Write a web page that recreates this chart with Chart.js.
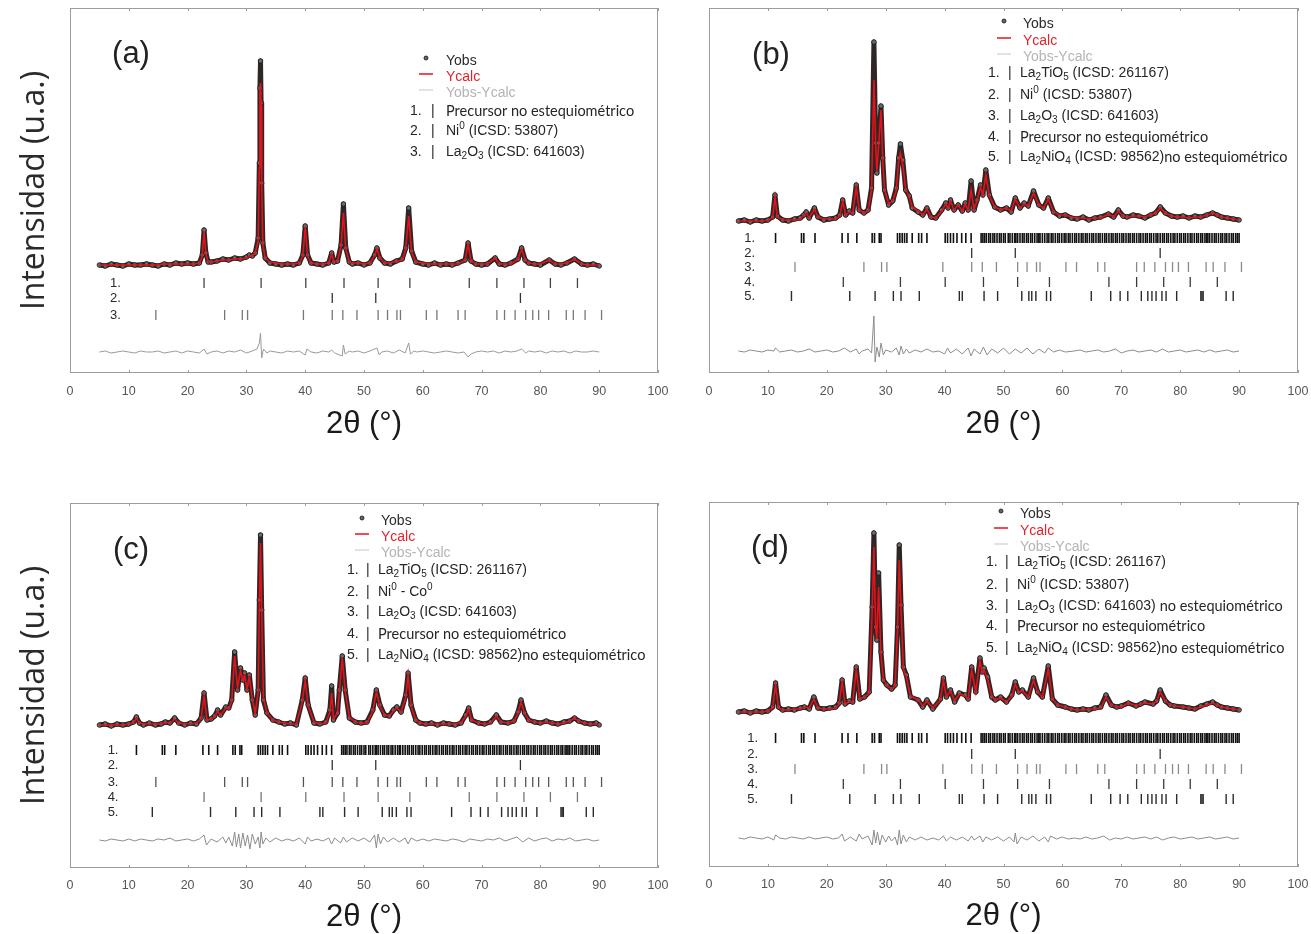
<!DOCTYPE html>
<html>
<head>
<meta charset="utf-8">
<script src="https://cdn.jsdelivr.net/npm/chart.js@4.4.1/dist/chart.umd.min.js"></script>
<style>
  body { margin: 0; background: #fff; }
  #fig { position: relative; width: 1311px; height: 934px; overflow: hidden; background: #fff; }
  #fig canvas { position: absolute; }
</style>
</head>
<body>
<div id="fig">
  <canvas id="panelA" width="690" height="445" style="left:0px;top:0px"></canvas>
  <canvas id="panelB" width="621" height="445" style="left:690px;top:0px"></canvas>
  <canvas id="panelC" width="690" height="474" style="left:0px;top:460px"></canvas>
  <canvas id="panelD" width="621" height="474" style="left:690px;top:460px"></canvas>
</div>
<script>
// ---- axis / legend text ----
const xTickValues = [0, 10, 20, 30, 40, 50, 60, 70, 80, 90, 100];
const legendSeries = ['Yobs', 'Ycalc', 'Yobs-Ycalc'];

// ---- reflection positions (2θ) for each phase ----
const precursor = [22.8, 32.5, 40.1, 46.6, 52.4, 57.8, 67.9, 72.6, 77.2, 81.7, 86.3];
const ni0 = [44.6, 52.0, 76.6];
const la2o3 = [14.6, 26.3, 29.3, 30.2, 39.7, 44.6, 46.4, 48.8, 52.4, 54.0, 55.6, 56.2, 60.6, 62.4,
  66.0, 67.2, 72.6, 73.9, 75.7, 77.5, 78.7, 79.7, 81.4, 84.4, 85.6, 87.6, 90.4];
const la2nio4 = [14.0, 23.9, 28.2, 31.3, 32.6, 35.7, 42.5, 43.0, 46.7, 49.0, 53.1, 54.3, 54.8, 55.5,
  57.3, 58.0, 64.9, 68.2, 69.8, 71.1, 73.4, 74.5, 75.2, 75.9, 76.9, 77.6, 79.4, 83.5, 83.7, 83.9, 87.8, 89.0];
const la2tio5 = [11.3, 15.7, 16.1, 18.0, 22.6, 23.6, 25.1, 27.7, 28.1, 28.9, 29.2, 32.0, 32.4, 32.8, 33.2,
  33.6, 34.5, 35.6, 36.1, 37.0, 40.1, 40.5, 41.0, 41.5, 42.1, 42.9, 43.6, 44.5, 46.2, 46.5, 46.8, 47.1,
  47.5, 47.8, 48.2, 48.5, 48.9, 49.3, 49.6, 50.0, 50.3, 50.8, 51.1, 51.5, 51.9, 52.1, 52.4, 52.8, 53.2,
  53.5, 53.9, 54.2, 54.6, 54.9, 55.3, 55.7, 56.0, 56.2, 56.6, 57.0, 57.4, 57.7, 58.1, 58.4, 58.8, 59.2,
  59.5, 59.9, 60.3, 60.6, 61.0, 61.3, 61.7, 62.1, 62.4, 62.8, 63.2, 63.5, 63.9, 64.2, 64.6, 65.0, 65.3,
  65.7, 66.1, 66.4, 66.8, 67.2, 67.5, 67.9, 68.3, 68.6, 69.0, 69.3, 69.7, 70.1, 70.4, 70.8, 71.2, 71.5,
  71.9, 72.2, 72.6, 73.0, 73.3, 73.7, 74.1, 74.4, 74.8, 75.1, 75.5, 75.9, 76.2, 76.6, 77.0, 77.3, 77.7,
  78.0, 78.4, 78.8, 79.1, 79.5, 79.9, 80.2, 80.6, 80.9, 81.3, 81.7, 82.0, 82.4, 82.8, 83.1, 83.5, 83.8,
  84.2, 84.5, 84.7, 85.0, 85.4, 85.8, 86.1, 86.5, 86.9, 87.2, 87.6, 87.9, 88.3, 88.7, 89.0, 89.4, 89.7, 90.0];

// ---- panel (a) ----
const a2theta = [
  5, 6, 7, 8, 9, 10, 11, 12, 13, 14,
  15, 16, 17, 18, 19, 20, 21, 22, 22.5, 22.8,
  23.1, 23.5, 24, 25, 26, 27, 28, 29, 30, 30.5,
  31, 31.5, 32, 32.2, 32.3, 32.4, 32.5, 32.6, 32.8, 33.2,
  34, 35, 36, 37, 38, 39, 39.6, 40, 40.4, 41,
  42, 43, 44, 44.5, 44.9, 45.5, 46.1, 46.5, 46.9, 47.5,
  48, 49, 50, 51, 51.8, 52.2, 52.7, 53.5, 54.5, 55.5,
  56.5, 57.1, 57.6, 58.1, 58.8, 60, 61, 62, 63, 64,
  65, 66, 67.2, 67.7, 68.2, 69, 70, 71, 72.3, 73,
  74, 75, 76.2, 76.8, 77.4, 78, 79, 80, 81.5, 82.5,
  83.5, 84.5, 85.8, 87, 88, 89, 90];
const aObs = [
  108, 107, 109, 108, 107, 109, 108, 108, 109, 108,
  107, 109, 108, 110, 109, 110, 109, 110, 118, 143,
  120, 111, 111, 112, 114, 113, 115, 114, 116, 118,
  117, 120, 135, 210, 285, 312, 270, 190, 130, 115,
  110, 109, 108, 109, 108, 110, 118, 147, 118, 110,
  109, 108, 110, 120, 111, 112, 128, 169, 125, 111,
  109, 110, 108, 110, 118, 125, 115, 110, 109, 112,
  114, 125, 165, 122, 111, 109, 108, 110, 108, 109,
  108, 110, 113, 130, 112, 109, 108, 109, 115, 109,
  108, 110, 114, 125, 113, 110, 109, 108, 113, 109,
  108, 110, 114, 109, 108, 109, 107];
const aCalc = [
  108, 108, 108, 108, 108, 108, 108, 108, 108, 108,
  108, 109, 109, 109, 109, 109, 109, 110, 117, 142,
  119, 111, 111, 112, 113, 113, 114, 114, 115, 117,
  117, 120, 132, 205, 282, 290, 268, 185, 128, 115,
  111, 110, 109, 109, 109, 110, 117, 146, 117, 110,
  109, 109, 110, 119, 111, 112, 127, 160, 124, 111,
  110, 110, 109, 110, 117, 124, 115, 110, 110, 112,
  113, 124, 157, 121, 111, 110, 109, 109, 109, 109,
  109, 109, 113, 129, 112, 109, 109, 109, 115, 109,
  109, 109, 114, 124, 113, 110, 109, 109, 113, 109,
  109, 110, 114, 109, 108, 108, 108];
const aDiff = [[5,21],[6,22],[7,20],[8,21],[9,22],[10,21],[11,20],[12,22],[13,21],[14,21],[15,22],[16,20],
  [17,21],[18,22],[19,20],[20,22],[21,21],[22,20],[22.8,24],[23.3,19],[24,21],[25,22],[26,20],[27,22],
  [28,21],[29,23],[30,20],[31,22],[31.8,24],[32.2,30],[32.4,40],[32.6,15],[32.9,24],[33.5,20],[34,22],
  [35,21],[36,20],[37,22],[38,21],[39,22],[40,18],[40.3,24],[41,21],[42,20],[43,22],[44,21],[44.5,23],
  [45,20],[46.3,17],[46.5,28],[46.8,19],[47.5,22],[48,21],[49,22],[50,20],[51,22],[52.2,25],[52.6,18],
  [53,21],[54,22],[55,20],[56,23],[57,20],[57.6,30],[57.9,19],[58.5,22],[59,21],[60,22],[61,21],[62,20],
  [63,21],[64,22],[65,21],[66,20],[67,21],[67.7,16],[68.2,19],[69,21],[70,22],[71,21],[72,22],[73,20],
  [74,22],[75,21],[76,22],[76.8,24],[77.5,20],[78,22],[79,21],[80,22],[81,20],[82,22],[83,21],[84,22],
  [85,20],[86,22],[87,21],[88,21],[89,22],[90,21]];

// ---- panel (b) ----
const b2theta = [
  5, 6, 7, 8, 9, 10, 10.8, 11.2, 11.6, 12.5,
  13.5, 14.5, 15.5, 16.1, 16.5, 17.0, 17.9, 18.5, 19.5, 20.5,
  21.5, 22.2, 22.7, 23.2, 23.8, 24.4, 25.0, 25.5, 26.3, 27.0,
  27.6, 28.0, 28.3, 28.5, 28.8, 29.2, 29.5, 29.8, 30.5, 31.2,
  31.8, 32.2, 32.5, 32.9, 33.4, 34.0, 34.5, 35.5, 36.3, 37.0,
  37.7, 38.5, 39.5, 40.2, 40.6, 41.0, 41.6, 42.3, 43.0, 43.5,
  44.0, 44.5, 45.0, 45.5, 46.1, 46.5, 47.0, 47.6, 48.5, 49.5,
  50.5, 51.3, 52.0, 52.8, 53.5, 54.2, 55.1, 56.0, 56.8, 57.6,
  58.5, 59.5, 60.5, 61.5, 62.5, 63.5, 64.5, 65.5, 66.5, 67.8,
  68.7, 69.5, 70.3, 71.0, 72.0, 73.0, 74.0, 75.0, 75.8, 76.6,
  77.5, 78.5, 79.5, 80.5, 81.5, 82.5, 83.5, 84.5, 85.5, 86.3,
  87.0, 88.0, 89.0, 90.0];
const bObs = [
  152, 153, 151, 153, 152, 153, 156, 178, 157, 153,
  152, 154, 155, 158, 161, 155, 165, 156, 153, 154,
  155, 158, 173, 158, 162, 160, 188, 163, 160, 163,
  185, 331, 230, 200, 230, 267, 215, 183, 168, 172,
  185, 215, 229, 213, 183, 177, 165, 161, 158, 165,
  156, 155, 163, 170, 165, 173, 163, 168, 162, 170,
  163, 192, 163, 173, 188, 178, 203, 178, 166, 163,
  165, 161, 175, 165, 170, 167, 182, 168, 165, 175,
  161, 157, 158, 155, 154, 156, 153, 155, 156, 159,
  156, 163, 157, 156, 158, 157, 155, 158, 160, 166,
  160, 157, 156, 157, 155, 157, 156, 158, 160, 158,
  156, 155, 154, 153];
const bCalc = [
  152, 152, 152, 152, 152, 153, 155, 176, 156, 153,
  153, 153, 154, 158, 160, 155, 164, 156, 154, 154,
  154, 157, 172, 158, 161, 160, 186, 163, 160, 162,
  183, 293, 228, 202, 228, 263, 212, 184, 169, 172,
  183, 212, 220, 208, 184, 176, 166, 162, 158, 164,
  156, 155, 162, 169, 165, 172, 163, 168, 162, 169,
  163, 183, 164, 172, 186, 178, 198, 177, 166, 163,
  165, 162, 174, 165, 169, 167, 180, 168, 165, 174,
  161, 158, 158, 156, 155, 155, 154, 155, 155, 159,
  156, 162, 157, 156, 157, 157, 156, 158, 160, 165,
  160, 157, 156, 156, 155, 156, 156, 158, 160, 158,
  156, 155, 154, 153];
const bDiff = [[5,22],[6,21],[7,23],[8,22],[9,21],[10,23],[11,22],[11.3,25],[12,21],[13,22],[14,23],[15,21],
  [16,22],[17,24],[18,21],[19,22],[20,23],[21,21],[22,22],[23,25],[24,21],[25,24],[25.5,19],[26,22],[27,24],
  [27.6,20],[28.0,57],[28.2,11],[28.5,26],[28.9,16],[29.2,30],[29.6,18],[30,23],[31,21],[31.8,25],[32.3,18],
  [32.6,27],[33,19],[33.5,24],[34,20],[35,23],[36,21],[37,24],[38,21],[39,22],[40,19],[40.5,25],[41,20],
  [42,24],[43,19],[44,25],[44.5,17],[45,24],[46,19],[46.6,26],[47.2,18],[48,24],[49,20],[50,25],[51,19],
  [52,24],[53,20],[54,25],[55,19],[56,24],[57,20],[57.6,25],[58.5,21],[59.5,23],[60.5,21],[62,22],[63,23],
  [64,21],[65,22],[66,23],[67,21],[68,22],[69,24],[70,20],[71,22],[72,23],[73,21],[74,22],[75,23],[76,21],
  [77,24],[78,21],[79,22],[80,23],[81,21],[82,22],[83,23],[84,21],[85,23],[86,21],[87,22],[88,23],[89,21],[90,22]];

// ---- panel (c) ----
const c2theta = [
  5, 6, 7, 8, 9, 10, 10.8, 11.3, 11.8, 12.5,
  13.5, 14.5, 15.5, 16.2, 17.0, 17.8, 18.5, 19.5, 20.5, 21.5,
  22.3, 22.8, 23.3, 24.0, 24.6, 25.1, 25.6, 26.5, 27.0, 27.5,
  28.0, 28.5, 29.0, 29.4, 29.7, 30.1, 30.5, 31.0, 31.5, 32.0,
  32.2, 32.4, 32.6, 32.9, 33.5, 34.5, 35.5, 36.5, 37.5, 38.5,
  39.5, 40.0, 40.5, 41.5, 42.5, 43.5, 44.2, 44.5, 44.8, 45.5,
  45.8, 46.3, 46.8, 47.5, 48.5, 49.5, 50.5, 51.5, 52.1, 52.7,
  53.5, 54.3, 55.0, 55.6, 56.3, 57.1, 57.5, 58.0, 58.8, 59.5,
  60.5, 61.5, 62.5, 63.5, 64.5, 65.5, 66.5, 67.3, 67.8, 68.3,
  69.5, 70.5, 71.5, 72.5, 73.3, 74.5, 75.5, 76.2, 76.7, 77.3,
  78.0, 79.0, 80.0, 81.0, 82.0, 83.0, 84.0, 85.0, 85.8, 86.5,
  87.5, 88.5, 89.5, 90.0];
const cObs = [
  143, 144, 142, 144, 143, 144, 146, 151, 145, 143,
  145, 143, 144, 146, 145, 150, 145, 143, 145, 144,
  150, 175, 148, 149, 152, 158, 153, 161, 160, 168,
  216, 178, 200, 188, 195, 178, 193, 168, 153, 178,
  268, 333, 258, 168, 155, 148, 146, 144, 145, 143,
  168, 190, 163, 145, 144, 146, 158, 182, 148, 155,
  178, 212, 178, 150, 146, 145, 146, 158, 178, 163,
  153, 152, 158, 161, 156, 173, 195, 163, 148, 145,
  144, 145, 143, 145, 144, 143, 145, 153, 160, 148,
  145, 144, 146, 153, 146, 145, 147, 156, 168, 155,
  148, 146, 145, 147, 145, 144, 146, 147, 150, 147,
  145, 144, 145, 143];
const cCalc = [
  143, 143, 143, 143, 143, 144, 145, 150, 145, 144,
  144, 144, 144, 146, 145, 149, 145, 144, 144, 145,
  149, 172, 148, 149, 151, 157, 153, 160, 159, 167,
  212, 180, 197, 188, 193, 179, 191, 169, 155, 176,
  262, 325, 255, 170, 155, 148, 146, 145, 144, 144,
  166, 188, 162, 146, 144, 145, 156, 175, 149, 155,
  176, 210, 177, 151, 146, 145, 145, 157, 176, 162,
  153, 152, 157, 160, 156, 171, 193, 162, 148, 145,
  144, 144, 144, 144, 144, 144, 145, 152, 159, 148,
  145, 144, 145, 152, 146, 145, 147, 155, 166, 155,
  148, 146, 145, 146, 145, 144, 145, 147, 150, 147,
  145, 144, 144, 143];
const cDiff = [[5,28],[6,27],[7,29],[8,28],[9,27],[10,29],[11,27],[12,29],[13,28],[14,27],[15,29],[16,28],
  [17,30],[18,27],[19,28],[20,29],[21,27],[22,29],[22.8,33],[23.2,23],[24,29],[25,26],[26,31],[26.5,25],
  [27,31],[27.6,22],[28,36],[28.3,21],[28.7,34],[29,20],[29.4,35],[29.8,22],[30.2,33],[30.6,19],[31,34],
  [31.5,24],[32,31],[32.3,20],[32.5,36],[32.8,24],[33.3,30],[34,26],[35,30],[36,27],[37,29],[38,27],[39,30],
  [40,24],[40.4,31],[41,27],[42,29],[43,27],[44,30],[44.5,24],[45,30],[46,25],[46.5,31],[47,26],[48,30],
  [49,27],[50,30],[51,26],[51.8,33],[52.1,20],[52.4,34],[52.8,24],[53.3,31],[54,26],[55,30],[56,26],[57,30],
  [57.5,24],[58,30],[59,27],[60,29],[61,27],[62,29],[63,28],[64,27],[65,29],[66,28],[67,26],[68,29],[69,28],
  [70,27],[71,29],[72,28],[73,30],[74,27],[75,29],[76,31],[77,26],[78,30],[79,27],[80,29],[81,30],[82,27],
  [83,29],[84,28],[85,30],[86,27],[87,28],[88,29],[89,27],[90,28]];

// ---- panel (d) ----
const d2theta = [
  5, 6, 7, 8, 9, 10, 10.8, 11.3, 11.8, 12.5,
  13.5, 14.5, 15.5, 16.2, 17.0, 17.8, 18.5, 19.5, 20.5, 21.5,
  22.1, 22.6, 23.1, 23.8, 24.4, 25.0, 25.6, 26.4, 27.2, 27.7,
  28.0, 28.3, 28.5, 28.8, 29.2, 29.6, 30.2, 31.0, 31.6, 32.0,
  32.3, 32.6, 33.0, 33.5, 34.2, 35.5, 36.3, 37.0, 38.0, 39.3,
  39.8, 40.3, 41.0, 41.7, 42.5, 43.5, 44.0, 44.6, 45.3, 46.0,
  46.4, 46.7, 47.3, 48.0, 48.6, 49.5, 50.5, 51.4, 52.0, 52.6,
  53.2, 54.2, 55.1, 55.8, 56.6, 57.6, 58.3, 59.2, 60.5, 61.5,
  62.5, 63.5, 64.5, 65.5, 66.5, 67.4, 68.3, 69.2, 70.0, 71.2,
  72.5, 73.3, 74.0, 75.4, 76.0, 76.6, 77.5, 78.3, 79.0, 80.5,
  81.5, 82.5, 83.5, 84.5, 85.5, 86.3, 87.0, 88.0, 89.0, 90.0];
const dObs = [
  155, 156, 154, 156, 155, 156, 160, 184, 160, 157,
  158, 157, 159, 160, 158, 170, 159, 158, 159, 160,
  164, 187, 163, 166, 165, 200, 168, 170, 175, 260,
  334, 240, 227, 294, 215, 187, 182, 178, 182, 240,
  322, 262, 200, 192, 170, 167, 160, 167, 158, 168,
  189, 170, 177, 165, 174, 172, 168, 200, 175, 209,
  195, 199, 190, 170, 167, 170, 165, 172, 185, 175,
  177, 170, 189, 175, 170, 201, 168, 162, 160, 158,
  157, 158, 157, 159, 160, 172, 162, 160, 161, 164,
  161, 163, 165, 163, 166, 177, 166, 162, 161, 160,
  159, 158, 161, 163, 165, 162, 160, 159, 158, 157];
const dCalc = [
  155, 155, 155, 155, 155, 156, 159, 182, 159, 157,
  157, 158, 158, 160, 159, 168, 159, 158, 158, 159,
  163, 185, 163, 165, 165, 197, 168, 170, 174, 255,
  320, 238, 228, 280, 212, 188, 181, 178, 181, 236,
  307, 258, 198, 190, 171, 167, 161, 166, 159, 167,
  187, 170, 176, 166, 173, 171, 168, 197, 175, 206,
  194, 197, 188, 171, 167, 169, 165, 171, 183, 175,
  176, 170, 187, 175, 170, 198, 168, 162, 160, 158,
  157, 157, 158, 158, 159, 170, 162, 160, 160, 164,
  161, 163, 164, 163, 166, 175, 166, 162, 161, 160,
  159, 158, 160, 162, 164, 162, 160, 159, 158, 157];
const dDiff = [[5,29],[6,28],[7,30],[8,29],[9,28],[10,30],[11,27],[11.3,32],[12,29],[13,28],[14,30],[15,29],
  [16,28],[17,30],[18,28],[19,29],[20,30],[21,28],[22,29],[22.6,33],[23,26],[24,30],[25,26],[25.5,33],[26,28],
  [27,31],[27.7,22],[28,37],[28.3,24],[28.6,35],[29,22],[29.4,32],[30,25],[30.5,31],[31,26],[31.6,30],[32,22],
  [32.3,37],[32.6,23],[33,32],[33.5,25],[34,30],[35,27],[36,30],[37,27],[38,29],[39,27],[39.8,31],[40.3,26],
  [41,30],[42,27],[43,30],[44,26],[44.6,31],[45,27],[46,31],[46.5,25],[47,30],[48,27],[49,30],[50,26],[51,30],
  [51.8,25],[52,34],[52.3,23],[53,30],[54,27],[55,31],[56,26],[57,30],[57.6,25],[58,31],[59,28],[60,30],[61,28],
  [62,29],[63,28],[64,30],[65,28],[66,29],[67,31],[68,27],[69,29],[70,28],[71,30],[72,28],[73,29],[74,30],
  [75,28],[76,30],[77,27],[78,29],[79,30],[80,28],[81,29],[82,30],[83,28],[84,29],[85,30],[86,28],[87,29],
  [88,30],[89,28],[90,29]];

// ---- phase names shown in each legend ----
const namesA = ['Precursor no estequiométrico', 'Ni^0 (ICSD: 53807)', 'La_2O_3 (ICSD: 641603)'];
const namesB = ['La_2TiO_5 (ICSD: 261167)', 'Ni^0 (ICSD: 53807)', 'La_2O_3 (ICSD: 641603)',
  'Precursor no estequiométrico', 'La_2NiO_4 (ICSD: 98562)no estequiométrico'];
const namesC = ['La_2TiO_5 (ICSD: 261167)', 'Ni^0 - Co^0', 'La_2O_3 (ICSD: 641603)',
  'Precursor no estequiométrico', 'La_2NiO_4 (ICSD: 98562)no estequiométrico'];
const namesD = ['La_2TiO_5 (ICSD: 261167)', 'Ni^0 (ICSD: 53807)', 'La_2O_3 (ICSD: 641603) no estequiométrico',
  'Precursor no estequiométrico', 'La_2NiO_4 (ICSD: 98562)no estequiométrico'];

const ARIAL = '"Liberation Sans", Arial, sans-serif';
const LATO = 'Lato, "Open Sans", sans-serif';
const FRAME_H = 365;

// text with _x subscripts and ^x superscripts; the "no estequiométrico" part is in a Calibri-like face
function drawRich(ctx, text, x, y, size) {
  const cut = text.search(/Precursor|no estequiom/);
  let cx = x;
  let i = 0;
  while (i < text.length) {
    const family = (cut >= 0 && i >= cut) ? LATO : ARIAL;
    const fsize = family === LATO ? size + 0.5 : size;
    const ch = text[i];
    if ((ch === '_' || ch === '^') && i + 1 < text.length) {
      ctx.font = Math.round(fsize * 0.68) + 'px ' + family;
      ctx.fillText(text[i + 1], cx, y + (ch === '_' ? fsize * 0.32 : -fsize * 0.36));
      cx += ctx.measureText(text[i + 1]).width;
      i += 2;
    } else {
      let j = i + 1;
      while (j < text.length && text[j] !== '_' && text[j] !== '^' && j !== cut) j++;
      const run = text.slice(i, j);
      ctx.font = fsize + 'px ' + family;
      ctx.fillText(run, cx, y);
      cx += ctx.measureText(run).width;
      i = j;
    }
  }
}

const deco = {
  id: 'deco',
  afterDatasetsDraw(chart, args, o) {
    const { ctx, chartArea: ca, scales: { x, y } } = chart;
    ctx.save();

    // frame + small inward ticks
    ctx.strokeStyle = '#9c9c9c';
    ctx.lineWidth = 1;
    ctx.strokeRect(Math.round(ca.left) + 0.5, Math.round(ca.top) + 0.5,
      Math.round(ca.width) - 1, Math.round(ca.height) - 1);
    ctx.beginPath();
    xTickValues.forEach(v => {
      const px = Math.round(x.getPixelForValue(v)) + 0.5;
      ctx.moveTo(px, ca.top); ctx.lineTo(px, ca.top + 3);
      ctx.moveTo(px, ca.bottom); ctx.lineTo(px, ca.bottom - 3);
    });
    ctx.stroke();

    ctx.textBaseline = 'middle';
    ctx.textAlign = 'left';

    // row numbers for the reflection markers
    ctx.fillStyle = '#2a2a2a';
    ctx.font = '13px ' + ARIAL;
    o.rowLevels.forEach((lv, i) => {
      ctx.fillText((i + 1) + '.', x.getPixelForValue(o.rowLabelX), y.getPixelForValue(lv));
    });

    // panel letter
    ctx.fillStyle = '#222';
    ctx.font = '31px ' + ARIAL;
    ctx.textAlign = 'center';
    ctx.fillText(o.label, o.labelPos[0] - o.ox, o.labelPos[1] - o.oy);
    ctx.textAlign = 'left';

    // legend
    const L = o.legend;
    const lx = v => v - o.ox, ly = v => v - o.oy;
    ctx.font = '14px ' + ARIAL;
    ctx.fillStyle = '#666'; ctx.strokeStyle = '#111'; ctx.lineWidth = 0.8;
    ctx.beginPath(); ctx.arc(lx(L.markX), ly(L.yObs - 3), 2, 0, Math.PI * 2); ctx.fill(); ctx.stroke();
    ctx.fillStyle = '#2a2a2a';
    ctx.fillText(legendSeries[0], lx(L.textX), ly(L.yObs));

    ctx.strokeStyle = '#e5222b'; ctx.lineWidth = 1.6;
    ctx.beginPath(); ctx.moveTo(lx(L.markX - 7), ly(L.yCalc - 3)); ctx.lineTo(lx(L.markX + 7), ly(L.yCalc - 3)); ctx.stroke();
    ctx.fillStyle = '#e5222b';
    ctx.fillText(legendSeries[1], lx(L.textX), ly(L.yCalc));

    ctx.strokeStyle = '#cfcfcf'; ctx.lineWidth = 1.2;
    ctx.beginPath(); ctx.moveTo(lx(L.markX - 7), ly(L.yDiff - 3)); ctx.lineTo(lx(L.markX + 7), ly(L.yDiff - 3)); ctx.stroke();
    ctx.fillStyle = '#b4b4b4';
    ctx.fillText(legendSeries[2], lx(L.textX), ly(L.yDiff));

    ctx.fillStyle = '#262626';
    o.names.forEach((name, i) => {
      const yy = ly(L.itemY[i]);
      ctx.font = '14px ' + ARIAL;
      ctx.fillText((i + 1) + '.', lx(L.numX), yy);
      ctx.fillText('|', lx(L.barX), yy);
      drawRich(ctx, name, lx(L.nameX), yy, 14);
    });

    ctx.restore();
  }
};

function pts(xs, ys) {
  if (xs.length !== ys.length) console.warn('length mismatch', xs.length, ys.length);
  return xs.map((v, i) => ({ x: v, y: ys[i] }));
}

function makePanel(p) {
  const datasets = [
    { label: 'Ycalc', data: pts(p.x, p.calc), showLine: true, borderColor: '#e3121b', borderWidth: 1.6,
      pointRadius: 0, order: 0 },
    { label: 'Yobs', data: pts(p.x, p.obs), showLine: true, borderColor: 'rgba(25,14,14,0.9)', borderWidth: 5,
      borderJoinStyle: 'round', pointRadius: 2.3, pointBackgroundColor: '#6a6a6a', pointBorderColor: '#151515',
      pointBorderWidth: 0.8, order: 1 },
    { label: 'Yobs-Ycalc', data: p.diff.map(([x, y]) => ({ x, y })), showLine: true, borderColor: p.diffColor,
      borderWidth: 1, pointRadius: 0, order: 2 }
  ];
  p.phases.forEach((list, i) => {
    datasets.push({
      label: 'fase ' + (i + 1),
      data: list.map(v => ({ x: v, y: p.rowLevels[i] })),
      showLine: false, pointStyle: 'line', pointRadius: 5, pointRotation: 90,
      pointBorderColor: p.rowColors[i], pointBorderWidth: p.rowWidths[i], order: 3
    });
  });

  const el = document.getElementById(p.canvas);
  return new Chart(el, {
    type: 'scatter',
    data: { datasets },
    options: {
      responsive: false,
      animation: false,
      devicePixelRatio: 1,
      events: [],
      layout: { padding: { left: 0, top: p.padTop, right: p.padRight, bottom: 0 } },
      scales: {
        x: {
          type: 'linear', min: 0, max: 100,
          afterBuildTicks: s => { s.ticks = xTickValues.map(v => ({ value: v })); },
          ticks: { color: '#555', font: { family: ARIAL, size: 12.5 }, padding: p.tickPad, maxRotation: 0, autoSkip: false },
          grid: { display: false, drawTicks: false },
          border: { display: false },
          title: { display: true, text: '2θ (°)', color: '#1a1a1a',
            font: { family: ARIAL, size: 31, lineHeight: 1 }, padding: { top: 0, bottom: p.titlePad } },
          afterFit: s => { s.height = p.height - p.padTop - FRAME_H; s.paddingLeft = 0; s.paddingRight = 0; }
        },
        y: {
          min: 0, max: FRAME_H,
          ticks: { display: false },
          grid: { display: false, drawTicks: false },
          border: { display: false },
          title: { display: p.yTitle, text: 'Intensidad (u.a.)', color: '#2a2a2a',
            font: { family: '"Open Sans", sans-serif', size: 32, lineHeight: 1 }, padding: { top: 19, bottom: 0 } },
          afterFit: s => { s.width = p.axisLeft; s.paddingTop = 0; s.paddingBottom = 0; }
        }
      },
      plugins: {
        legend: { display: false },
        tooltip: { enabled: false },
        deco: {
          ox: p.left, oy: p.top, label: p.label, labelPos: p.labelPos,
          rowLevels: p.rowLevels, rowLabelX: p.rowLabelX, names: p.names, legend: p.legend
        }
      }
    },
    plugins: [deco]
  });
}

makePanel({
  canvas: 'panelA', left: 0, top: 0, height: 445, padTop: 8, padRight: 32, axisLeft: 70,
  tickPad: 11.5, titlePad: 5.5, yTitle: true, label: '(a)', labelPos: [131, 54],
  x: a2theta, obs: aObs, calc: aCalc, diff: aDiff, diffColor: '#9a9a9a',
  phases: [precursor, ni0, la2o3], rowLevels: [90, 75, 58], rowColors: ['#444', '#333', '#777'],
  rowWidths: [1.3, 1.3, 1.3], rowLabelX: 6.8,
  names: namesA,
  legend: { markX: 426, textX: 446, yObs: 61, yCalc: 77, yDiff: 93, numX: 410, barX: 431, nameX: 446,
    itemY: [111, 131, 152] }
});

makePanel({
  canvas: 'panelB', left: 690, top: 0, height: 445, padTop: 8, padRight: 13, axisLeft: 19,
  tickPad: 11.5, titlePad: 5.5, yTitle: false, label: '(b)', labelPos: [771, 55],
  x: b2theta, obs: bObs, calc: bCalc, diff: bDiff, diffColor: '#8c8c8c',
  phases: [la2tio5, ni0, la2o3, precursor, la2nio4], rowLevels: [135, 120, 106, 91, 77],
  rowColors: ['#111', '#333', '#8a8a8a', '#3a3a3a', '#2a2a2a'], rowWidths: [1.6, 1.3, 1.3, 1.3, 1.4],
  rowLabelX: 6.0,
  names: namesB,
  legend: { markX: 1004, textX: 1023, yObs: 24, yCalc: 41, yDiff: 57, numX: 988, barX: 1008, nameX: 1020,
    itemY: [73, 95, 116, 137, 157] }
});

makePanel({
  canvas: 'panelC', left: 0, top: 460, height: 474, padTop: 43, padRight: 32, axisLeft: 70,
  tickPad: 10.5, titlePad: 1.5, yTitle: true, label: '(c)', labelPos: [131, 550],
  x: c2theta, obs: cObs, calc: cCalc, diff: cDiff, diffColor: '#8c8c8c',
  phases: [la2tio5, ni0, la2o3, precursor, la2nio4], rowLevels: [118, 103, 86, 71, 56],
  rowColors: ['#111', '#333', '#555', '#777', '#2a2a2a'], rowWidths: [1.6, 1.3, 1.3, 1.3, 1.4],
  rowLabelX: 6.4,
  names: namesC,
  legend: { markX: 362, textX: 381, yObs: 521, yCalc: 537, yDiff: 553, numX: 347, barX: 366, nameX: 378,
    itemY: [570, 592, 612, 634, 655] }
});

makePanel({
  canvas: 'panelD', left: 690, top: 460, height: 474, padTop: 42, padRight: 13, axisLeft: 19,
  tickPad: 10.5, titlePad: 2, yTitle: false, label: '(d)', labelPos: [770, 548],
  x: d2theta, obs: dObs, calc: dCalc, diff: dDiff, diffColor: '#8c8c8c',
  phases: [la2tio5, ni0, la2o3, precursor, la2nio4], rowLevels: [129, 113, 98, 83, 68],
  rowColors: ['#111', '#333', '#8a8a8a', '#3a3a3a', '#2a2a2a'], rowWidths: [1.6, 1.3, 1.3, 1.3, 1.4],
  rowLabelX: 6.5,
  names: namesD,
  legend: { markX: 1001, textX: 1020, yObs: 514, yCalc: 531, yDiff: 547, numX: 986, barX: 1005, nameX: 1017,
    itemY: [562, 585, 606, 626, 648] }
});
</script>
</body>
</html>
